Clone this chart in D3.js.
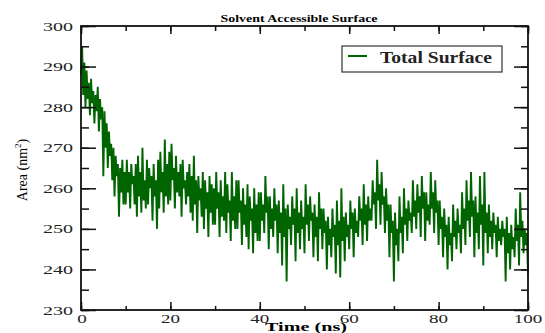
<!DOCTYPE html>
<html><head><meta charset="utf-8">
<script src="https://cdn.jsdelivr.net/npm/d3@7"></script>
<style>html,body{margin:0;padding:0;background:#fff;overflow:hidden}
svg text{font-family:"Liberation Serif","DejaVu Serif",serif}</style>
</head><body>
<svg id="c" width="545" height="333"></svg>
<script>
const title = "Solvent Accessible Surface";
const xLabel = "Time (ns)";
const yLabel = "Area (nm";
const seriesName = "Total Surface";
const xTicks = [0, 20, 40, 60, 80, 100];
const yTicks = [230, 240, 250, 260, 270, 280, 290, 300];
const timeStep = 0.25;
const area = [
  288,295,283,291,280,289,282,286,278,287,281,284,276,283,279,285,274,282,277,280,
  263,279,270,276,265,274,268,271,262,270,258,268,263,266,253,265,259,267,256,264,
  256,267,259,264,255,266,261,263,256,266,253,268,258,264,254,270,257,262,255,267,
  256,265,260,263,252,266,258,262,250,267,255,269,259,264,254,272,258,266,256,269,
  257,271,262,265,255,268,259,264,258,266,253,267,260,262,256,264,258,266,254,263,
  252,268,256,262,249,263,257,260,253,264,250,262,255,259,248,263,254,261,251,260,
  251,264,255,259,248,262,253,258,252,264,249,261,254,257,247,264,252,258,250,262,
  250,262,254,257,246,260,251,256,248,261,245,258,252,255,244,260,249,256,247,259,
  247,259,252,256,249,263,254,258,245,258,250,255,248,260,252,256,244,257,249,254,
  241,261,248,255,237,256,250,253,246,258,251,255,242,260,249,254,245,257,250,253,
  244,261,251,256,247,258,252,254,243,256,248,253,242,259,250,255,245,255,249,252,
  240,253,246,250,243,255,248,251,239,257,246,252,238,260,247,253,242,254,248,251,
  245,257,250,254,243,255,249,252,248,258,252,255,246,261,251,256,247,258,252,255,
  252,262,256,259,250,267,257,261,251,264,256,258,249,260,252,256,243,256,249,252,
  237,254,246,250,242,258,249,253,244,260,251,255,247,257,252,254,249,262,253,257,
  250,261,254,258,248,263,255,259,247,259,252,256,251,264,255,259,249,262,254,257,
  246,257,250,253,243,255,248,251,240,253,246,249,242,256,248,252,245,255,249,251,
  244,259,250,255,246,262,252,257,248,264,253,257,243,258,249,254,245,263,251,256,
  241,264,249,254,244,256,248,252,245,254,249,251,243,253,247,250,246,252,248,250,
  237,253,244,249,240,251,245,248,243,255,247,251,241,259,248,252,244,250,246,249,
  239
];

const svg = d3.select("#c");
const L = 81, R = 528, T = 26, B = 310;
const x = d3.scaleLinear().domain([0, 100]).range([L, R]);
const y = d3.scaleLinear().domain([230, 300]).range([B, T]);
const data = area.map((v, i) => ({t: i * timeStep, v}));
const green = "#006400";

// data line
svg.append("path").datum(data)
  .attr("fill", "none").attr("stroke", green).attr("stroke-width", 1.9)
  .attr("stroke-linejoin","miter").attr("stroke-miterlimit",2)
  .attr("d", d3.line().x(d => x(d.t)).y(d => y(d.v)));

// axes with inward ticks
const xMinor = d3.range(0, 101, 10);
const yMinor = d3.range(230, 301, 5);
function styleAxis(g){ g.select(".domain").remove(); g.selectAll("line").attr("stroke","#111").attr("stroke-width",1.5); }
svg.append("g").attr("transform",`translate(0,${B})`)
  .call(d3.axisTop(x).tickValues(xMinor).tickSize(4).tickFormat("")).call(styleAxis);
svg.append("g").attr("transform",`translate(0,${B})`)
  .call(d3.axisTop(x).tickValues(xTicks).tickSize(8).tickFormat("")).call(styleAxis);
svg.append("g").attr("transform",`translate(0,${T})`)
  .call(d3.axisBottom(x).tickValues(xMinor).tickSize(5).tickFormat("")).call(styleAxis);
svg.append("g").attr("transform",`translate(0,${T})`)
  .call(d3.axisBottom(x).tickValues(xTicks).tickSize(8).tickFormat("")).call(styleAxis);
svg.append("g").attr("transform",`translate(${L},0)`)
  .call(d3.axisRight(y).tickValues(yMinor).tickSize(8).tickFormat("")).call(styleAxis);
svg.append("g").attr("transform",`translate(${L},0)`)
  .call(d3.axisRight(y).tickValues(yTicks).tickSize(15).tickFormat("")).call(styleAxis);
svg.append("g").attr("transform",`translate(${R},0)`)
  .call(d3.axisLeft(y).tickValues(yMinor).tickSize(7).tickFormat("")).call(styleAxis);
svg.append("g").attr("transform",`translate(${R},0)`)
  .call(d3.axisLeft(y).tickValues(yTicks).tickSize(14).tickFormat("")).call(styleAxis);

// frame
svg.append("rect").attr("x",L).attr("y",T).attr("width",R-L).attr("height",B-T)
  .attr("fill","none").attr("stroke","#111").attr("stroke-width",1.8);

// tick labels
svg.selectAll(".yl").data(yTicks).enter().append("text")
  .attr("x", 73).attr("y", d => y(d) + 4.5)
  .attr("text-anchor","end").attr("font-size",13)
  .attr("fill","#222")
  .attr("textLength", d => String(d).length * 10).attr("lengthAdjust","spacingAndGlyphs")
  .text(d => d);
svg.selectAll(".xl").data(xTicks).enter().append("text")
  .attr("x", d => x(d) + (d === 0 ? 1 : 0)).attr("y", 323)
  .attr("text-anchor","middle").attr("font-size",13)
  .attr("fill","#222")
  .attr("textLength", d => String(d).length * 9.5).attr("lengthAdjust","spacingAndGlyphs")
  .text(d => d);

// title
svg.append("text").attr("x", 299).attr("y", 21.5).attr("text-anchor","middle")
  .attr("font-size",11).attr("font-weight","bold")
  .attr("textLength",157).attr("lengthAdjust","spacingAndGlyphs").text(title);

// x label
svg.append("text").attr("x", 306).attr("y", 330.5).attr("text-anchor","middle")
  .attr("font-size",13).attr("font-weight","bold")
  .attr("textLength",82).attr("lengthAdjust","spacingAndGlyphs").text(xLabel);

// y label
const yl = svg.append("text").attr("transform","translate(27,170) rotate(-90)")
  .attr("text-anchor","middle").attr("font-size",14);
yl.append("tspan").text(yLabel);
yl.append("tspan").attr("font-size",9).attr("dy",-6).text("2");
yl.append("tspan").attr("dy",6).text(")");

// legend
svg.append("rect").attr("x",342).attr("y",46).attr("width",160).attr("height",26)
  .attr("fill","#fff").attr("stroke","#333").attr("stroke-width",1.2);
svg.append("line").attr("x1",348).attr("x2",367).attr("y1",56).attr("y2",56)
  .attr("stroke",green).attr("stroke-width",2);
svg.append("text").attr("x",380).attr("y",63)
  .attr("font-size",16).attr("font-weight","bold").attr("fill","#222")
  .attr("textLength",112).attr("lengthAdjust","spacingAndGlyphs").text(seriesName);
</script>
</body></html>
